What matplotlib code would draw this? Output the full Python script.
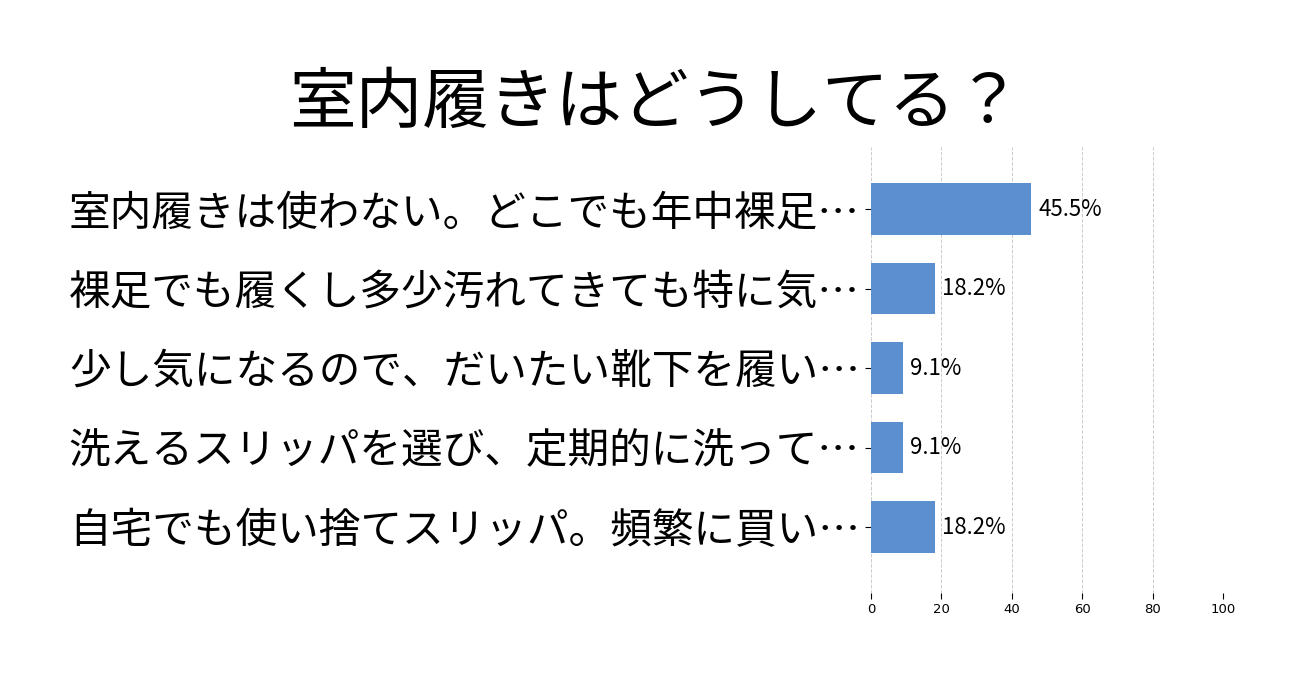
import matplotlib
matplotlib.use("Agg")
import matplotlib.pyplot as plt

# --- Data ---
labels = [
    "室内履きは使わない。どこでも年中裸足…",
    "裸足でも履くし多少汚れてきても特に気…",
    "少し気になるので、だいたい靴下を履い…",
    "洗えるスリッパを選び、定期的に洗って…",
    "自宅でも使い捨てスリッパ。頻繁に買い…",
]
values = [45.5, 18.2, 9.1, 9.1, 18.2]
xticks = [0, 20, 40, 60, 80, 100]

jp = ["Noto Sans CJK JP", "DejaVu Sans"]

fig = plt.figure(figsize=(13.06, 6.83), dpi=100)
ax = fig.add_axes([871 / 1306, 1 - 593 / 683, (1223 - 871) / 1306, (593 - 147) / 683])

y = list(range(len(labels)))
bars = ax.barh(y, values, height=0.65, color="#5b8fd0", zorder=2)
for b, v in zip(bars, values):
    ax.text(v + 2, b.get_y() + b.get_height() / 2, f"{v}%", va="center", ha="left",
            fontsize=16, family=jp)

ax.set_xlim(0, 100)
ax.set_ylim(4.83, -0.78)
ax.set_xticks(xticks)
ax.set_xticklabels([str(t) for t in xticks], fontsize=9.5)
ax.set_yticks(y)
ax.set_yticklabels(labels, fontsize=30, family=jp)
ax.tick_params(axis="y", length=4, width=0.8, pad=4)
ax.tick_params(axis="x", length=4, width=0.8, pad=3)
ax.grid(axis="x", linestyle="--", color="#cccccc", linewidth=0.7, zorder=0)
for s in ax.spines.values():
    s.set_visible(False)

fig.text(656 / 1306, 1 - 104 / 683, "室内履きはどうしてる？", ha="center", va="center",
         fontsize=48, family=jp)

fig.savefig("out.png", dpi=100)
